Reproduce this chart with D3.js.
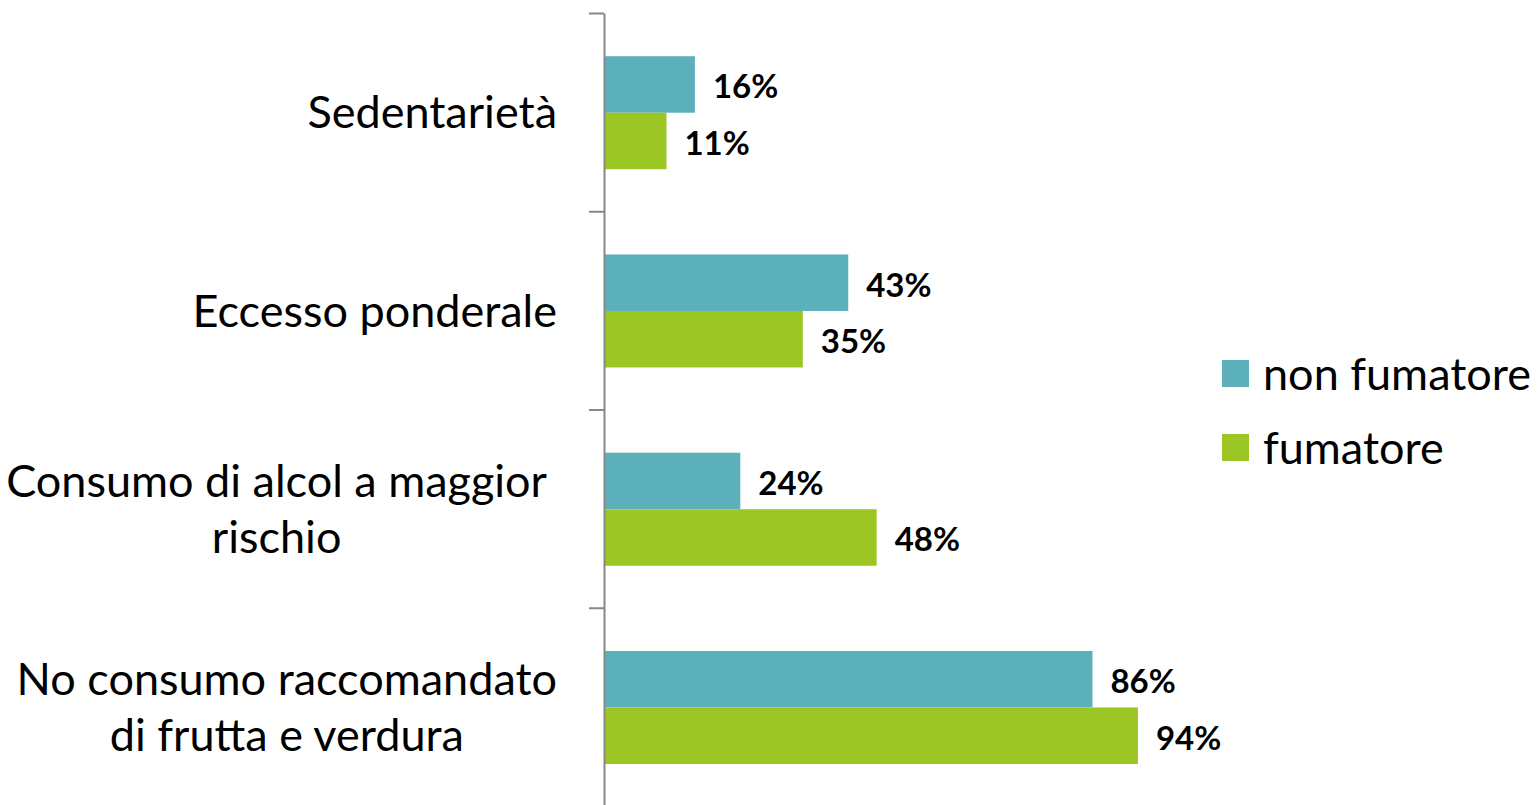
<!DOCTYPE html>
<html>
<head>
<meta charset="utf-8">
<script src="https://cdn.jsdelivr.net/npm/d3@7"></script>
<style>
  html, body { margin: 0; padding: 0; background: #fff; }
  svg { display: block; }
  text { font-family: Lato, "Open Sans", sans-serif; }
</style>
</head>
<body>
<svg id="chart" width="1537" height="805"></svg>
<script>
const categories = [
  ["Sedentarietà"],
  ["Eccesso ponderale"],
  ["Consumo di alcol a maggior", "rischio"],
  ["No consumo raccomandato", "di frutta e verdura"]
];
const categoryKeys = ["Sedentarietà", "Eccesso ponderale", "Consumo di alcol a maggior rischio", "No consumo raccomandato di frutta e verdura"];
const seriesNames = ["non fumatore", "fumatore"];
const nonFumatore = [16, 43, 24, 86];
const fumatore = [11, 35, 48, 94];
const seriesColors = ["#5BB0B9", "#9BC624"];

const svg = d3.select("#chart");
const axisX = 604, plotTop = 13, plotBottom = 806;

const x = d3.scaleLinear().domain([0, 100]).range([axisX, axisX + 568]);
const y0 = d3.scaleBand().domain(categoryKeys).range([plotTop, plotBottom]).paddingInner(0).paddingOuter(0);
const bw = y0.bandwidth();
const y1 = d3.scaleBand().domain(seriesNames).range([bw * 0.218, bw * 0.788]);

const data = categoryKeys.map((k, i) => ({
  key: k, lines: categories[i],
  values: [{s: seriesNames[0], v: nonFumatore[i], c: seriesColors[0]}, {s: seriesNames[1], v: fumatore[i], c: seriesColors[1]}]
}));

const groups = svg.selectAll("g.cat").data(data).join("g")
  .attr("class", "cat")
  .attr("transform", d => `translate(0,${y0(d.key)})`);

groups.selectAll("rect").data(d => d.values).join("rect")
  .attr("x", x(0))
  .attr("y", d => y1(d.s))
  .attr("width", d => x(d.v) - x(0))
  .attr("height", y1.bandwidth())
  .attr("fill", d => d.c);

groups.selectAll("text.val").data(d => d.values).join("text")
  .attr("class", "val")
  .attr("x", d => x(d.v) + 18)
  .attr("y", d => y1(d.s) + y1.bandwidth() / 2 + 2)
  .attr("dy", "0.36em")
  .attr("font-size", 33)
  .attr("font-weight", "bold")
  .attr("fill", "#000")
  .text(d => d.v + "%");

// category labels
const labelRight = 557;
const lineH = 56;
groups.each(function(d) {
  const g = d3.select(this);
  const n = d.lines.length;
  const cy = bw / 2;
  const texts = d.lines.map((ln, j) => g.append("text")
    .attr("class", "cat-label")
    .attr("font-size", 45)
    .attr("fill", "#000")
    .attr("text-anchor", "middle")
    .attr("y", cy + (j - (n - 1) / 2) * lineH)
    .attr("dy", "0.36em")
    .text(ln));
  const widths = texts.map(t => t.node().getComputedTextLength());
  const wmax = d3.max(widths);
  const center = labelRight - wmax / 2 - (d.key.startsWith("Consumo") ? 10 : 0);
  texts.forEach(t => t.attr("x", center));
});

// axis
const yIdx = d3.scaleLinear().domain([0, categoryKeys.length]).range([plotTop, plotBottom]);
const axis = d3.axisLeft(yIdx).tickValues(d3.range(0, categoryKeys.length + 1)).tickSize(15).tickFormat("").tickSizeOuter(0);
const ag = svg.append("g").attr("transform", `translate(${axisX},0)`).call(axis);
ag.selectAll("path, line").attr("stroke", "#878787").attr("stroke-width", 2);

// legend
const legend = svg.append("g").attr("transform", "translate(1222,360)");
const li = legend.selectAll("g").data(seriesNames).join("g")
  .attr("transform", (d, i) => `translate(0,${i * 74})`);
li.append("rect").attr("width", 27).attr("height", 27).attr("fill", (d, i) => seriesColors[i]);
li.append("text").attr("x", 41).attr("y", 13.5).attr("dy", "0.36em")
  .attr("font-size", 45).attr("fill", "#000").text(d => d);
</script>
</body>
</html>
